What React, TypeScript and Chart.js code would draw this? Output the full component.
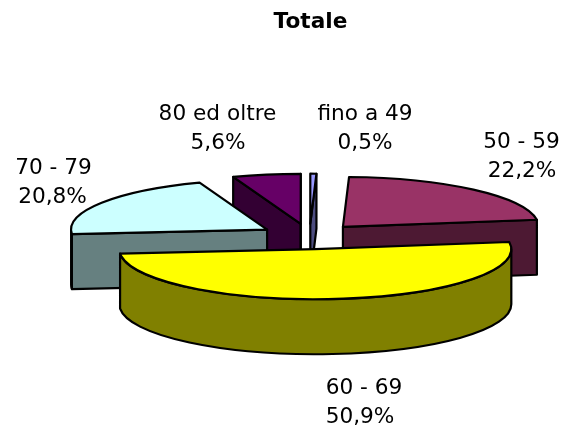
import React, { useEffect, useRef } from "react";
import { Chart, registerables } from "chart.js";

Chart.register(...registerables);

// ---- data
const categories = ["fino a 49", "50 - 59", "60 - 69", "70 - 79", "80 ed oltre"];
const shares = [0.5, 22.2, 50.9, 20.8, 5.6];
const chartTitle = "Totale";

// ---- styling
const topColors = ["#9999FF", "#993366", "#FFFF00", "#CCFFFF", "#660066"];
const wallColors = ["#4D4D80", "#4D1933", "#808000", "#668080", "#330033"];
const LABEL_FONT = '21px "DejaVu Sans", Verdana, sans-serif';
const TITLE_FONT = 'bold 21px "DejaVu Sans", Verdana, sans-serif';
const STRETCH = 1.03; // the reference's text is a little wider than it is tall
const TITLE_STRETCH = 1.03;
const LINE_H = 28.7;
const labelCentres = [
  { x: 365, y: 114.5 },
  { x: 521.5, y: 143 },
  { x: 364, y: 388.5 },
  { x: 53.5, y: 169 },
  { x: 217.5, y: 114.5 },
];
const valueShiftX = [0, 0.5, -4, -1, 0.5];
const titleCentre = { x: 310.5, y: 22.5 };
const RX = 196; // ellipse half-width of the pie's top face
const RY = 50; // ellipse half-height of the pie's top face
const DEPTH = 55; // extrusion height
const EXPLODE = 0.256; // slice separation, as a share of the radius

const pie3d = {
  id: "pie3d",
  beforeDatasetsDraw(chart: any) {
    const { ctx } = chart;
    const arcs = chart.getDatasetMeta(0).data as any[];
    const slices = arcs.map((arc, i) => {
      const p = arc.getProps(["x", "y", "startAngle", "endAngle"], true);
      const mid = (p.startAngle + p.endAngle) / 2;
      return {
        i,
        s: p.startAngle,
        e: p.endAngle,
        mid,
        ax: p.x + Math.cos(mid) * EXPLODE * RX,
        ay: p.y + Math.sin(mid) * EXPLODE * RY,
      };
    });
    // painter's order: back to front
    slices.sort((a, b) => Math.sin(a.mid) - Math.sin(b.mid));

    ctx.save();
    ctx.lineWidth = 2.2;
    ctx.strokeStyle = "#000";
    ctx.lineJoin = "round";

    const paint = (fill: string) => {
      ctx.fillStyle = fill;
      ctx.fill();
      ctx.stroke();
    };
    const radialWall = (sl: any, angle: number) => {
      const ex = sl.ax + Math.cos(angle) * RX;
      const ey = sl.ay + Math.sin(angle) * RY;
      ctx.beginPath();
      ctx.moveTo(sl.ax, sl.ay);
      ctx.lineTo(ex, ey);
      ctx.lineTo(ex, ey + DEPTH);
      ctx.lineTo(sl.ax, sl.ay + DEPTH);
      ctx.closePath();
      paint(wallColors[sl.i]);
    };

    for (const sl of slices) {
      // a slice's cut faces are visible when they turn towards the viewer
      if (Math.cos(sl.s) < 0) radialWall(sl, sl.s);
      if (Math.cos(sl.e) > 0) radialWall(sl, sl.e);

      // outer rim: only the front half of the ellipse
      const from = Math.max(sl.s, 0);
      const to = Math.min(sl.e, Math.PI);
      if (to > from) {
        ctx.beginPath();
        ctx.ellipse(sl.ax, sl.ay, RX, RY, 0, from, to);
        ctx.ellipse(sl.ax, sl.ay + DEPTH, RX, RY, 0, to, from, true);
        ctx.closePath();
        paint(wallColors[sl.i]);
      }

      // top face
      ctx.beginPath();
      ctx.moveTo(sl.ax, sl.ay);
      ctx.ellipse(sl.ax, sl.ay, RX, RY, 0, sl.s, sl.e);
      ctx.closePath();
      paint(topColors[sl.i]);
    }
    ctx.restore();
    return false;
  },
  afterDraw(chart: any) {
    const { ctx } = chart;
    const text = (s: string, x: number, y: number, stretch: number) => {
      ctx.save();
      ctx.translate(x, y);
      ctx.scale(stretch, 1);
      ctx.fillText(s, 0, 0);
      ctx.restore();
    };
    ctx.save();
    ctx.fillStyle = "#000";
    ctx.textAlign = "center";
    ctx.textBaseline = "middle";
    ctx.font = TITLE_FONT;
    text(chartTitle, titleCentre.x, titleCentre.y, TITLE_STRETCH);
    ctx.font = LABEL_FONT;
    categories.forEach((name, i) => {
      const c = labelCentres[i];
      text(name, c.x, c.y, STRETCH);
      text(shares[i].toFixed(1).replace(".", ",") + "%", c.x + valueShiftX[i], c.y + LINE_H, STRETCH);
    });
    ctx.restore();
  },
};

export default function App() {
  const ref = useRef<HTMLCanvasElement | null>(null);
  useEffect(() => {
    const chart = new Chart(ref.current as HTMLCanvasElement, {
      type: "pie",
      data: {
        labels: categories,
        datasets: [{ data: shares, backgroundColor: topColors, borderWidth: 0 }],
      },
      options: {
        responsive: false,
        animation: false,
        layout: { padding: { left: 55, right: 0, top: 46, bottom: 0 } },
        plugins: {
          legend: { display: false },
          tooltip: { enabled: false },
          title: { display: false },
        },
      },
      plugins: [pie3d],
    } as any);
    return () => chart.destroy();
  }, []);
  return (
    <canvas
      ref={ref}
      width={564}
      height={427}
      style={{ position: "absolute", left: 0, top: 0, display: "block", background: "#fff" }}
    />
  );
}
